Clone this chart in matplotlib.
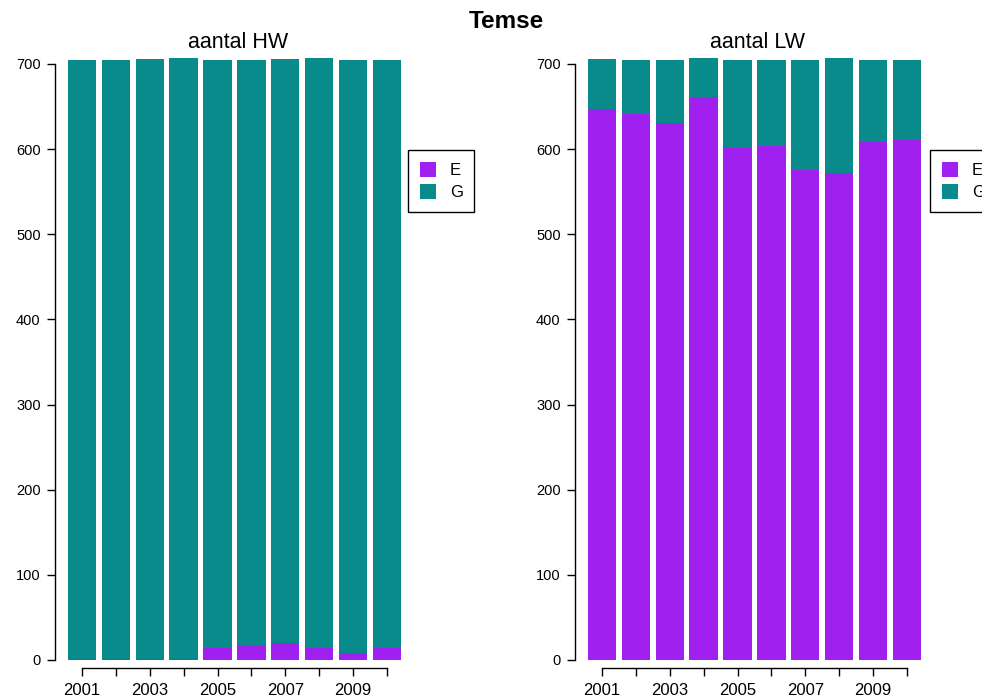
import matplotlib
matplotlib.use("Agg")
import matplotlib.pyplot as plt
from matplotlib.patches import Patch
import numpy as np

plt.rcParams['font.family'] = ['Liberation Sans', 'DejaVu Sans']

years = [2001, 2002, 2003, 2004, 2005, 2006, 2007, 2008, 2009, 2010]
year_labels = ['2001', '', '2003', '', '2005', '', '2007', '', '2009', '']
hw_E = [1, 1, 1, 1, 14, 17, 20, 14, 8, 14]
hw_G = [704, 704, 705, 706, 691, 688, 686, 693, 697, 691]
lw_E = [647, 641, 631, 661, 601, 604, 575, 572, 608, 611]
lw_G = [59, 64, 74, 46, 104, 101, 130, 135, 97, 94]
categories = ['E', 'G']
colors = {'E': '#A020F0', 'G': '#0A8B8B'}

FW, FH = 982, 697
fig = plt.figure(figsize=(FW / 100, FH / 100), dpi=100)
fig.patch.set_facecolor('white')


def px_axes(x0, x1, ytop, ybot):
    return fig.add_axes([x0 / FW, 1 - ybot / FH, (x1 - x0) / FW, (ybot - ytop) / FH])


def draw(ax, e_vals, g_vals, title, cx, leg_x):
    pos = 0.7 + 1.2 * np.arange(len(years))
    ax.bar(pos, e_vals, width=1.0, color=colors['E'], edgecolor='none')
    ax.bar(pos, g_vals, width=1.0, bottom=e_vals, color=colors['G'], edgecolor='none')
    ax.set_xlim(-0.272, 12.472)
    ax.set_ylim(-9.4, 716.4)
    for s in ['top', 'right']:
        ax.spines[s].set_visible(False)
    ax.spines['left'].set_bounds(0, 700)
    ax.spines['bottom'].set_bounds(pos[0], pos[-1])
    ax.spines['left'].set_linewidth(1.0)
    ax.spines['bottom'].set_linewidth(1.0)
    ax.set_yticks(np.arange(0, 701, 100))
    ax.set_xticks(pos)
    ax.set_xticklabels(year_labels)
    ax.tick_params(axis='both', length=6, width=1.0, colors='black')
    ax.tick_params(axis='y', labelsize=10.5, pad=4)
    ax.tick_params(axis='x', labelsize=12, pad=5)
    ax.set_facecolor('none')
    fig.text(cx / FW, 1 - 42 / FH, title, ha='center', va='center', fontsize=15.5)
    handles = [Patch(facecolor=colors[c], edgecolor='none') for c in categories]
    fig.legend(handles, categories, loc='upper left',
               bbox_to_anchor=(leg_x / FW, 1 - 150 / FH), borderaxespad=0,
               fancybox=False, edgecolor='black', framealpha=1, fontsize=12,
               handlelength=1.0, handleheight=1.0, borderpad=0.7,
               labelspacing=0.35, handletextpad=0.8)


ax1 = px_axes(54.5, 414.4, 50, 668)
draw(ax1, hw_E, hw_G, 'aantal HW', 238, 408)
ax2 = px_axes(574.5, 934.4, 50, 668)
draw(ax2, lw_E, lw_G, 'aantal LW', 757, 930)

fig.text(506 / FW, 1 - 22 / FH, 'Temse', ha='center', va='center',
         fontsize=17.5, fontweight='bold')

fig.savefig('out.png', dpi=100, facecolor='white')
